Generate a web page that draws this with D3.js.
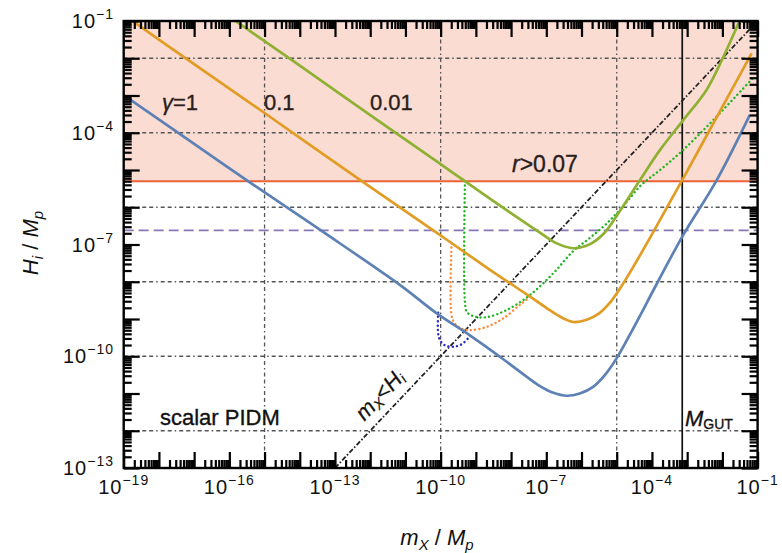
<!DOCTYPE html>
<html>
<head>
<meta charset="utf-8">
<script src="https://cdn.jsdelivr.net/npm/d3@7"></script>
<style>
  body { margin: 0; background: #fff; }
  svg { display: block; }
  text { font-family: "Liberation Sans", Arial, sans-serif; }
</style>
</head>
<body>
<svg id="chart" width="782" height="553"></svg>
<script>
// All values are log10 exponents: [log10(mX/Mp), log10(Hi/Mp)]
const xExtent = [-19, -1];
const yExtent = [-13, -1];
const xTickLabels = [-19, -16, -13, -10, -7, -4, -1];
const yTickLabels = [-1, -4, -7, -10, -13];
const xGridLines = [-15, -10, -5];
const yGridLines = [-2, -4, -6, -8, -10, -12];

// Tensor-to-scalar bound r > 0.07, the dashed purple level, and M_GUT
const rBound = -5.3;
const purpleLevel = -6.62;
const mGUT = -3.14;

// Solid curves for gamma = 1, 0.1, 0.01
const curveGamma1 = [
  [-19.0, -2.99], [-17.0, -4.30], [-15.47, -5.30], [-13.42, -6.61], [-11.15, -8.09],
  [-10.11, -8.85], [-9.17, -9.44], [-8.25, -10.06], [-7.6, -10.52], [-7.18, -10.8],
  [-6.8, -10.98], [-6.42, -11.06], [-6.05, -11.0], [-5.67, -10.82], [-5.35, -10.52],
  [-5.0, -10.05], [-4.53, -9.25], [-3.82, -7.98], [-3.11, -6.74], [-2.16, -5.27],
  [-1.22, -3.52]
];
const curveGamma01 = [
  [-18.9, -0.9], [-17.0, -2.16], [-15.0, -3.47], [-12.24, -5.3], [-10.21, -6.62],
  [-8.6, -7.68], [-8.03, -8.04], [-7.46, -8.40], [-7.0, -8.7], [-6.6, -8.94],
  [-6.23, -9.08], [-5.85, -9.02], [-5.5, -8.85], [-5.2, -8.57], [-4.9, -8.17],
  [-4.53, -7.6], [-3.96, -6.66], [-3.14, -5.27], [-2.16, -3.58], [-1.17, -1.87]
];
const curveGamma001 = [
  [-15.9, -0.95], [-15.32, -1.33], [-14.18, -2.08], [-12.1, -3.46], [-10.02, -4.83],
  [-9.31, -5.3], [-8.2, -6.03], [-7.18, -6.68], [-6.7, -6.97], [-6.23, -7.1],
  [-5.8, -7.01], [-5.38, -6.72], [-4.91, -6.1], [-4.34, -5.27], [-3.77, -4.46],
  [-3.11, -3.66], [-2.45, -2.85], [-2.03, -2.08], [-1.5, -0.97]
];

// Dotted branches
const dottedGamma1 = [
  [-10.07, -8.83], [-10.07, -9.40], [-10.0, -9.6], [-9.85, -9.72], [-9.6, -9.74],
  [-9.39, -9.67], [-9.2, -9.5], [-9.11, -9.42]
];
const dottedGamma01 = [
  [-9.69, -6.97], [-9.69, -8.9], [-9.6, -9.12], [-9.4, -9.26], [-9.17, -9.30],
  [-8.69, -9.21], [-8.22, -8.98], [-7.75, -8.62], [-7.46, -8.40]
];
const dottedGamma001 = [
  [-9.31, -5.3], [-9.31, -8.55], [-9.25, -8.82], [-9.05, -8.93], [-8.69, -8.95],
  [-8.13, -8.76], [-7.47, -8.36], [-6.80, -7.77], [-6.23, -7.17], [-5.8, -6.85],
  [-5.3, -6.45], [-4.8, -5.95], [-4.3, -5.4], [-3.77, -5.0], [-3.11, -4.46],
  [-2.26, -3.66], [-1.15, -2.55]
];

// The mX = Hi diagonal
const diagonal = [[-13, -13], [-1, -1]];

const P = e => Math.pow(10, e);

const svg = d3.select("#chart");
const box = { left: 123.7, right: 757.6, top: 21, bottom: 468 };

const x = d3.scaleLog().domain(xExtent.map(P)).range([box.left, box.right]);
const y = d3.scaleLog().domain(yExtent.map(P)).range([box.bottom, box.top]);

svg.append("defs").append("clipPath").attr("id", "plotClip")
  .append("rect")
  .attr("x", box.left).attr("y", box.top)
  .attr("width", box.right - box.left).attr("height", box.bottom - box.top);

const plot = svg.append("g").attr("clip-path", "url(#plotClip)");

// Excluded region r > 0.07
plot.append("rect")
  .attr("x", box.left).attr("y", box.top)
  .attr("width", box.right - box.left)
  .attr("height", y(P(rBound)) - box.top)
  .attr("fill", "#fadcd2");

// Grid
const gridStyle = g => g.attr("stroke", "#555").attr("stroke-width", 1.3)
  .attr("stroke-dasharray", "4,3,4,3,1.5,3").attr("fill", "none");
plot.append("g").call(gridStyle).selectAll("line").data(xGridLines).join("line")
  .attr("x1", d => x(P(d))).attr("x2", d => x(P(d)))
  .attr("y1", box.top).attr("y2", box.bottom);
plot.append("g").call(gridStyle).selectAll("line").data(yGridLines).join("line")
  .attr("x1", box.left).attr("x2", box.right)
  .attr("y1", d => y(P(d))).attr("y2", d => y(P(d)));

// Horizontal reference levels
plot.append("line")
  .attr("x1", box.left).attr("x2", box.right)
  .attr("y1", y(P(purpleLevel))).attr("y2", y(P(purpleLevel)))
  .attr("stroke", "#8778B3").attr("stroke-width", 1.8).attr("stroke-dasharray", "10,5");
plot.append("line")
  .attr("x1", box.left).attr("x2", box.right)
  .attr("y1", y(P(rBound))).attr("y2", y(P(rBound)))
  .attr("stroke", "#EB6235").attr("stroke-width", 2);

// M_GUT
plot.append("line")
  .attr("x1", x(P(mGUT))).attr("x2", x(P(mGUT)))
  .attr("y1", box.top).attr("y2", box.bottom)
  .attr("stroke", "#111").attr("stroke-width", 1.7);

const line = d3.line()
  .x(d => x(P(d[0])))
  .y(d => y(P(d[1])))
  .curve(d3.curveCatmullRom.alpha(0.5));

// mX < Hi diagonal
plot.append("path").datum(diagonal).attr("d", line)
  .attr("fill", "none").attr("stroke", "#222").attr("stroke-width", 1.8)
  .attr("stroke-dasharray", "5,2,1.5,2");

// Dotted branches
[[dottedGamma1, "#2a2ac0"], [dottedGamma01, "#ff8a3a"], [dottedGamma001, "#22b422"]]
  .forEach(([data, color]) => {
    plot.append("path").datum(data).attr("d", line)
      .attr("fill", "none").attr("stroke", color).attr("stroke-width", 2.4)
      .attr("stroke-linecap", "round").attr("stroke-dasharray", "0.1,4.2");
  });

// Solid curves
[[curveGamma1, "#5E81B5"], [curveGamma01, "#E19C24"], [curveGamma001, "#8FB032"]]
  .forEach(([data, color]) => {
    plot.append("path").datum(data).attr("d", line)
      .attr("fill", "none").attr("stroke", color).attr("stroke-width", 2.7)
      .attr("stroke-linejoin", "round");
  });

// Ticks on all four sides, pointing inward
const decadesX = d3.range(xExtent[0], xExtent[1] + 1);
const decadesY = d3.range(yExtent[0], yExtent[1] + 1);
const minors = decades => decades.slice(0, -1).flatMap(e => d3.range(2, 10).map(k => k * P(e)));
const majorLen = 16, minorLen = 8;

function drawTicks(axisFn, scale, majors, minorVals, transform) {
  const g = svg.append("g").attr("transform", transform);
  g.append("g").call(axisFn(scale).tickValues(majors.map(P)).tickSizeInner(-majorLen).tickSizeOuter(0).tickFormat(""));
  g.append("g").call(axisFn(scale).tickValues(minorVals).tickSizeInner(-minorLen).tickSizeOuter(0).tickFormat(""));
  g.selectAll(".domain").remove();
  g.selectAll("line").attr("stroke", "#000").attr("stroke-width", 2.2);
}
drawTicks(d3.axisBottom, x, decadesX, minors(decadesX), `translate(0,${box.bottom})`);
drawTicks(d3.axisTop, x, decadesX, minors(decadesX), `translate(0,${box.top})`);
drawTicks(d3.axisLeft, y, decadesY, minors(decadesY), `translate(${box.left},0)`);
drawTicks(d3.axisRight, y, decadesY, minors(decadesY), `translate(${box.right},0)`);

// Frame
svg.append("rect")
  .attr("x", box.left).attr("y", box.top)
  .attr("width", box.right - box.left).attr("height", box.bottom - box.top)
  .attr("fill", "none").attr("stroke", "#000").attr("stroke-width", 2.4);

// Tick labels
function powerText(sel, e) {
  sel.append("tspan").text("10");
  sel.append("tspan").attr("dy", -9).attr("font-size", 14).text("\u2212" + Math.abs(e));
}
svg.append("g").selectAll("text").data(xTickLabels).join("text")
  .attr("x", d => x(P(d))).attr("y", 494)
  .attr("text-anchor", "middle").attr("font-size", 20).attr("letter-spacing", 1)
  .attr("fill", "#111")
  .each(function (d) { powerText(d3.select(this), d); });
svg.append("g").selectAll("text").data(yTickLabels).join("text")
  .attr("x", 114).attr("y", d => y(P(d)) + 7)
  .attr("text-anchor", "end").attr("font-size", 20).attr("letter-spacing", 1)
  .attr("fill", "#111")
  .each(function (d) { powerText(d3.select(this), d); });

// Axis titles
const xTitle = svg.append("text").attr("x", 437).attr("y", 545)
  .attr("text-anchor", "middle").attr("font-size", 22).attr("fill", "#111");
xTitle.append("tspan").attr("font-style", "italic").text("m");
xTitle.append("tspan").attr("font-size", 15).attr("font-style", "italic").attr("dy", 5).text("X");
xTitle.append("tspan").attr("dy", -5).text(" / ");
xTitle.append("tspan").attr("font-style", "italic").text("M");
xTitle.append("tspan").attr("font-size", 15).attr("font-style", "italic").attr("dy", 5).text("p");

const yTitle = svg.append("text").attr("transform", "translate(38,243) rotate(-90)")
  .attr("text-anchor", "middle").attr("font-size", 22).attr("fill", "#111");
yTitle.append("tspan").attr("font-style", "italic").text("H");
yTitle.append("tspan").attr("font-size", 15).attr("font-style", "italic").attr("dy", 5).text("i");
yTitle.append("tspan").attr("dy", -5).text(" / ");
yTitle.append("tspan").attr("font-style", "italic").text("M");
yTitle.append("tspan").attr("font-size", 15).attr("font-style", "italic").attr("dy", 5).text("p");

// In-plot annotations
const ann = svg.append("g").attr("font-size", 22).attr("fill", "#2b1d1a")
  .attr("stroke", "#2b1d1a").attr("stroke-width", 0.35);
const g1 = ann.append("text").attr("x", 162).attr("y", 110);
g1.append("tspan").attr("font-style", "italic").text("γ");
g1.append("tspan").text("=1");
ann.append("text").attr("x", 264).attr("y", 110).text("0.1");
ann.append("text").attr("x", 370).attr("y", 110).text("0.01");
const rl = ann.append("text").attr("x", 512).attr("y", 172).attr("font-size", 23);
rl.append("tspan").attr("font-style", "italic").text("r");
rl.append("tspan").text(">0.07");
ann.append("text").attr("x", 160).attr("y", 425).attr("font-size", 22)
  .attr("fill", "#111").attr("stroke", "#111").text("scalar PIDM");

const ml = ann.append("text").attr("fill", "#111").attr("stroke", "#111")
  .attr("stroke-width", 0.2).attr("font-size", 22)
  .attr("text-anchor", "middle")
  .attr("transform", "translate(385,400) rotate(-46.6)");
ml.append("tspan").attr("font-style", "italic").text("m");
ml.append("tspan").attr("font-size", 14).attr("font-style", "italic").attr("dy", 3).text("X");
ml.append("tspan").attr("dy", -3).text("<");
ml.append("tspan").attr("font-style", "italic").text("H");
ml.append("tspan").attr("font-size", 14).attr("font-style", "italic").attr("dy", 3).text("i");

const gl = ann.append("text").attr("x", 685).attr("y", 426).attr("fill", "#111").attr("stroke", "#111");
gl.append("tspan").attr("font-style", "italic").text("M");
gl.append("tspan").attr("font-size", 14).attr("dy", 3).text("GUT");
</script>
</body>
</html>
